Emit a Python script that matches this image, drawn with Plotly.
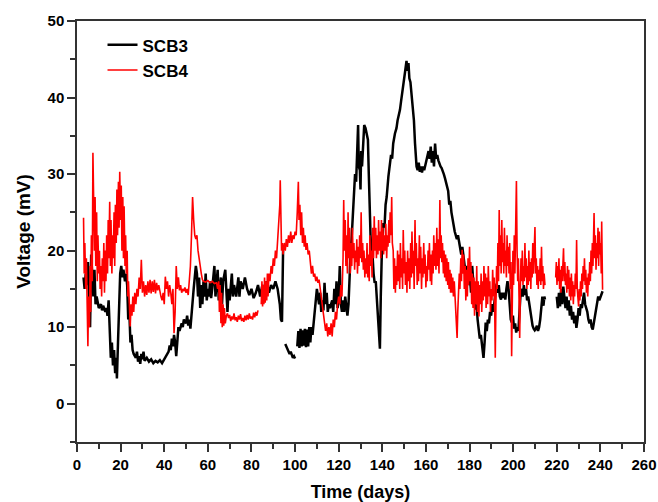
import plotly.graph_objects as go

# ---------------- data ----------------
scb3_days = [
    3, 3.5, 4, 4.5, 5, 5.5, 6, 6.5, 7, 7.5, 8, 8.5, 9, 9.5, 10, 11, 11.5, 12, 13, 13.5, 14, 14.5, 15, 15.5, 16, 16.5,
    17, 17.5, 18, 18.3, 18.8, 19.3, 19.8, 20.3, 20.8, 21.3, 22, 22.5, 23, 23.5, 24, 24.5, 25, 25.5, 26, 27, 27.5,
    28, 28.5, 29, 29.5, 30, 30.5, 31, 32, 33, 34, 35, 36, 37, 38, 39, 40, 41, 42, 42.5, 43, 43.5, 44, 44.5, 45,
    45.5, 46, 46.5, 47, 48, 48.5, 49, 50, 50.5, 51, 51.5, 52, 52.5, 53, 53.5, 54, 54.5, 55, 55.5, 56, 56.5, 57,
    57.5, 58, 58.5, 59, 59.5, 60, 60.5, 61, 61.5, 62, 63, 63.5, 64, 64.5, 65, 65.5, 66, 66.5, 67, 68, 68.5, 69,
    69.5, 70, 71, 71.5, 72, 73, 74, 74.5, 75, 76, 77, 78, 79, 80, 81, 82, 83, 84, 85, 86, 87, 88, 89, 90, 91, 92,
    92.5, 93, 93.5, 94, 94.5,
    None,
    95.5, 96, 96.5, 97, 97.5, 98, 98.5, 99, 99.5, 100,
    None,
    101, 101.5, 102, 102.5, 103, 103.5, 104, 104.5, 105, 105.5, 106, 106.5, 107, 107.5, 108, 108.5, 109, 109.5,
    110, 110.5, 111, 111.5, 112, 112.5, 113, 113.5, 114, 114.5, 115, 115.5, 116, 117, 117.5, 118, 118.5, 119,
    119.5, 120, 120.5, 121, 121.5, 122, 122.5, 123, 123.5, 124, 124.5, 125, 125.5, 126, 126.5, 127, 127.5, 128,
    128.5, 128.9, 129.2, 129.7, 130, 130.3, 130.7, 131.2, 131.7, 132.3, 132.8, 133.4, 133.8, 134.2, 134.6, 135,
    135.5, 136, 136.5, 137, 137.5, 138, 138.5, 138.9, 139.3, 139.8, 140.5, 141, 141.5, 142, 142.8, 143.5, 144,
    144.5, 145, 145.8, 146.5, 147, 147.5, 148.1, 148.6, 149, 149.5, 150, 150.5, 151.1, 151.5, 152, 152.4, 152.9,
    153.4, 154, 154.5, 155, 155.3, 155.7, 156.2, 156.7, 157.2, 157.7, 158.2, 158.7, 159.2, 159.7, 160.2, 160.7,
    161.2, 161.7, 162.2, 162.7, 163.2, 163.7, 164.2, 164.7, 165.2, 165.7, 166.2, 166.7, 167.2, 167.7, 168.2,
    168.7, 169.2, 169.7, 170.2, 170.7, 171.2, 171.7, 172.2, 172.7, 173.2, 173.7, 174.2, 174.7, 175.2, 175.7,
    176.2, 176.7, 177.2, 177.7, 178.2, 178.7, 179.2, 179.7, 180.2, 180.7, 181.2, 181.7, 182.2, 182.7, 183.2,
    183.7, 184.2, 184.7, 185.2, 185.7, 186.4, 186.9, 187.4, 187.9, 188.4, 188.9, 189.4, 189.9, 190.4, 190.9,
    191.4, 191.9, 192.4, 192.9, 193.4, 193.9, 194.4, 194.9, 195.4, 195.9, 196.4, 196.9, 197.4, 197.9, 198.4,
    198.9, 199.4, 199.9, 200.4, 200.9, 201.4, 201.9, 202.4, 202.9, 203.4, 203.9, 204.4, 204.9, 205.4, 205.9,
    206.4, 206.9, 207.4, 207.9, 208.4, 208.9, 209.4, 209.9, 210.4, 210.9, 211.4, 211.9, 212.4, 212.9, 213.4,
    213.9, 214.3, 214.6,
    None,
    220, 220.5, 221, 221.5, 222, 222.5, 223, 223.5, 224, 224.5, 225, 225.5, 226, 226.5, 227, 227.5, 228, 228.5,
    229, 229.5, 230, 230.5, 231, 231.5, 232, 232.5, 233, 233.5, 234, 234.5, 235, 235.5, 236, 236.5, 237, 237.5,
    238, 238.5, 239, 239.5, 240, 240.5, 241,
]
scb3_mv = [
    16.5, 15, 17, 15.5, 18.5, 14, 10, 19.5, 16, 14, 17.5, 13, 14, 13, 12.5, 13, 12.2, 12.8, 12, 12.5, 11.5, 13.5,
    10.5, 6, 8, 5, 7, 4, 6, 3.3, 8, 14, 17, 18, 16.5, 17.5, 16, 17, 15.5, 11, 12, 8, 9, 7, 6.5, 6, 6.8, 5.5, 6.2,
    5.2, 6.5, 5.8, 6.8, 5.6, 6, 5.5, 5.8, 5.3, 5.6, 5.4, 5.7, 5.3, 5.8, 6.2, 6.8, 7.6, 7, 8.5, 7.5, 9, 8, 6.2, 8.5,
    10, 9.5, 10.5, 10, 11, 10.5, 11.5, 10.2, 11, 9.8, 12, 13.5, 15, 16.5, 18, 17, 14, 16.5, 12.5, 15.5, 13, 16, 14,
    17, 13.5, 15, 14, 16, 13.8, 15, 18, 14, 16, 17.5, 13.5, 15, 16.5, 13, 16, 17.5, 14, 12, 15, 13.5, 17, 14, 15.5,
    14, 16.5, 14, 16, 15, 16.5, 15, 14.2, 15, 13.8, 14.5, 15.5, 14, 15.5, 15, 16, 14.5, 15.5, 15, 16, 15, 14, 13,
    11, 10.7, 20,
    None,
    7.8, 7.5, 7.2, 6.8, 6.5, 6.8, 6.2, 6.0, 6.2, 5.9,
    None,
    7.5, 9.5, 7.3, 9.8, 7.5, 9.6, 7.6, 9.8, 7.4, 9.7, 7.5, 10, 8, 10, 9, 10.5, 12, 14, 15, 14, 13, 14.5, 12, 13.5,
    12.2, 15.8, 13, 14.5, 12, 13, 12.5, 13.5, 12, 15, 13, 16, 12.5, 14, 18, 13, 12, 13.5, 12, 14, 12.2, 11.5, 13,
    17, 20, 22, 25, 27, 30, 29, 32, 36.4, 31, 30.5, 28, 33, 31, 34, 36.4, 36, 35, 34.5, 30, 25, 22, 20, 19.5, 17,
    15.8, 16, 14, 12, 9, 7.2, 14, 20, 23.6, 23, 26, 27, 29.7, 31, 32.5, 32, 34, 35.3, 36, 37, 37.5, 38.4, 39.5,
    40.5, 41.5, 42.5, 43.5, 44.8, 43.5, 44.5, 42.5, 42, 40.6, 39, 37, 34, 32, 31, 30.5, 31.5, 30.3, 31, 30.2, 31,
    30.5, 31.2, 31.8, 32.5, 33, 32, 33.6, 31.5, 33, 31, 34, 32, 32.5, 31.8, 31.2, 31, 30.8, 30.5, 30, 29.5, 29,
    28.5, 27.8, 26, 26.5, 25, 24, 23, 22.5, 22, 21.5, 22, 21, 20, 19.5, 20.5, 19.5, 18, 17, 18, 17, 15.5, 16.5,
    14.5, 18, 15, 14, 12.3, 13, 11, 10, 8.5, 9, 7.5, 6, 8, 10.6, 9.5, 11, 10.5, 12, 11.5, 13, 12, 13.5, 14, 15.7,
    14.5, 15.5, 14, 13.6, 14.5, 13.8, 14.5, 13.6, 15, 16, 15, 13, 11, 10.6, 11.5, 9.8, 10.5, 9.3, 10, 9.5, 12,
    14.4, 15, 14, 15.5, 14.2, 15, 13.5, 14, 13, 12, 11, 10.2, 9.8, 9.6, 9.8, 10.2, 9.5, 10, 11, 12.5, 14, 12.8,
    14, 13.6,
    None,
    14, 12.5, 14.5, 12.7, 15, 13, 15.3, 13.5, 12.5, 14, 12.2, 13.5, 11.5, 12.8, 11, 12, 10.5, 11.5, 9.9, 11, 12.5,
    11.5, 13, 12.5, 13.5, 14.5, 13, 12.5, 12, 11, 10.5, 11, 10, 9.7, 10.5, 11.5, 12.5, 13, 14, 13.5, 14, 14.5,
    14.7,
]

scb4_days = [
    3, 3.3, 3.6, 4, 4.3, 4.7, 5, 5.3, 5.7, 6, 6.3, 6.6, 7, 7.3, 7.6, 8, 8.3, 8.6, 9, 9.3, 9.6, 10, 10.3, 10.6, 11,
    11.3, 11.6, 12, 12.3, 12.6, 13, 13.3, 13.6, 14, 14.3, 14.6, 15, 15.3, 15.6, 16, 16.3, 16.6, 17, 17.3, 17.6,
    18, 18.3, 18.6, 19, 19.3, 19.6, 20, 20.3, 20.6, 21, 21.3, 21.6, 22, 22.3, 22.6, 23, 23.3, 23.6, 24, 24.4,
    24.8, 25.2, 25.6, 26, 26.5, 27, 27.5, 28, 28.5, 29, 29.5, 30, 30.5, 31, 31.5, 32, 32.5, 33, 33.5, 34, 34.5,
    35, 35.5, 36, 36.5, 37, 37.5, 38, 38.5, 39, 39.5, 40, 40.5, 41, 41.5, 42, 42.5, 43, 43.5, 44, 44.5, 45, 45.5,
    46, 46.5, 47, 47.5, 48, 48.5, 49, 49.5, 50, 50.5, 51, 51.5, 52, 52.5, 53, 53.5, 54, 54.5, 55, 55.5, 56, 56.5,
    57, 57.5, 58, 59, 60, 61, 62, 63, 64, 64.5, 65, 65.3, 65.6, 66, 66.3, 66.6, 67, 67.3, 67.6, 68, 68.5, 69,
    69.5, 70, 70.5, 71, 71.5, 72, 72.5, 73, 73.5, 74, 74.5, 75, 75.5, 76, 76.5, 77, 77.5, 78, 78.5, 79, 79.5, 80,
    80.5, 81, 81.5, 82, 82.5, 83,
    None,
    84.5, 84.8, 85.1, 85.4, 85.7, 86, 86.3, 86.6, 87, 87.3, 87.6, 88, 88.5, 89, 89.5, 90, 90.5, 91, 91.5, 92,
    92.5, 93, 93.2, 93.5, 93.8, 94.1, 94.5, 95, 95.5, 96, 96.5, 97, 97.5, 98, 98.5, 99, 99.5, 100, 100.5, 101,
    101.5, 101.8, 102.2, 102.6, 103, 103.4, 103.8, 104.2, 104.6, 105, 105.5, 106, 106.5, 107, 107.5, 108, 108.5,
    109, 109.5, 110, 110.5, 111, 111.5, 112, 112.5, 113, 113.5, 114, 114.5, 115, 115.5, 116, 116.5, 117, 117.5,
    118, 118.5, 119, 119.5, 120, 120.5, 121, 121.5, 122, 122.3, 122.6, 123, 123.3, 123.6, 124, 124.3, 124.6, 125,
    125.3, 125.6, 126, 126.3, 126.6, 127, 127.3, 127.6, 128, 128.3, 128.6, 129, 129.3, 129.6, 130, 130.3, 130.6,
    131, 131.3, 131.6, 132, 132.3, 132.6, 133, 133.3, 133.6, 134, 134.3, 134.6, 135, 135.3, 135.6, 136, 136.3,
    136.6, 137, 137.3, 137.6, 138, 138.3, 138.6, 139, 139.3, 139.6, 140, 140.3, 140.6, 141, 141.3, 141.6, 142,
    142.3, 142.6, 143, 143.3, 143.6, 144, 144.3, 144.6, 145, 145.3, 145.6, 146, 146.3, 146.6, 147, 147.3, 147.6,
    148, 148.3, 148.6, 149, 149.3, 149.6, 150, 150.3, 150.6, 151, 151.3, 151.6, 152, 152.3, 152.6, 153, 153.3,
    153.6, 154, 154.3, 154.6, 155, 155.3, 155.6, 156, 156.3, 156.6, 157, 157.3, 157.6, 158, 158.3, 158.6, 159,
    159.3, 159.6, 160, 160.3, 160.6, 161, 161.3, 161.6, 162, 162.3, 162.6, 163, 163.3, 163.6, 164, 164.3, 164.6,
    165, 165.3, 165.6, 166, 166.4, 166.7, 167, 167.3, 167.6, 168, 168.3, 168.6, 169, 169.3, 169.6, 170, 170.3,
    170.6, 171, 171.3, 171.6, 172, 172.3, 172.6, 173, 173.3, 173.6, 174, 174.3, 174.6, 175, 175.3, 175.6, 176,
    176.3, 176.6, 177, 177.3, 177.6, 178, 178.3, 178.6, 179, 179.3, 179.6, 180, 180.3, 180.6, 181, 181.3, 181.6,
    182, 182.3, 182.6, 183, 183.3, 183.6, 184, 184.3, 184.6, 185, 185.3, 185.6, 186, 186.3, 186.6, 187, 187.3,
    187.6, 188, 188.3, 188.6, 189, 189.3, 189.6, 190, 190.3, 190.6, 191, 191.3, 191.6, 191.8, 192.1, 192.4,
    192.7, 193, 193.3, 193.6, 193.9, 194.2, 194.5, 194.8, 195.1, 195.4, 195.7, 196, 196.3, 196.6, 196.9, 197.2,
    197.5, 197.8, 198.1, 198.4, 198.7, 199, 199.3, 199.6, 199.9, 200.2, 200.5, 200.8, 201.2, 201.5, 201.8,
    202.1, 202.4, 202.7, 203, 203.3, 203.6, 203.9, 204.2, 204.5, 204.8, 205.1, 205.4, 205.7, 206, 206.3, 206.6,
    206.9, 207.2, 207.5, 207.8, 208.1, 208.4, 208.7, 209, 209.3, 209.6, 210, 210.3, 210.6, 210.9, 211.2, 211.5,
    211.8, 212.1, 212.4, 212.7, 213, 213.3, 213.6, 213.9, 214.2, 214.6,
    None,
    219.5, 219.8, 220.1, 220.4, 220.7, 221, 221.3, 221.6, 221.9, 222.2, 222.5, 222.8, 223.1, 223.4, 223.7, 224,
    224.3, 224.6, 224.9, 225.2, 225.5, 225.8, 226.1, 226.4, 226.7, 227, 227.3, 227.6, 227.9, 228.2, 228.5, 228.8,
    229.1, 229.4, 229.7, 230, 230.3, 230.6, 230.9, 231.2, 231.5, 231.8, 232.1, 232.4, 232.7, 233, 233.3, 233.6,
    233.9, 234.2, 234.5, 234.8, 235.1, 235.4, 235.7, 236, 236.3, 236.6, 237.1, 237.4, 237.7, 238, 238.3, 238.6,
    238.9, 239.2, 239.5, 239.8, 240.1, 240.4, 240.6, 240.8, 241,
]
scb4_mv = [
    24.3, 17, 21, 15, 19, 12, 7.5, 14, 10, 18, 12, 22, 16, 32.8, 26, 20, 27, 18, 25, 16, 22, 17, 20, 15, 18, 14,
    19, 16, 21, 14.5, 20, 16, 22, 17, 24, 19, 26.4, 18, 24, 17, 22, 19, 25, 18, 26, 21, 28, 22, 29, 23, 30.3, 24,
    28.5, 20, 27, 19, 25.8, 18, 22, 17, 20, 14, 16, 12, 10.1, 13, 11.5, 14, 12, 14.5, 13, 15, 14, 16.5, 15, 18.8,
    14.5, 16, 14, 15.5, 14.2, 16, 14.5, 16.2, 14.4, 16, 14.6, 16.2, 14.4, 15.8, 14.8, 15.5, 14.5, 14, 13.5, 14.5,
    13, 16.6, 15, 16, 14, 15.5, 14.5, 13, 15, 9.2, 12, 18, 15, 16.5, 14.8, 15.5, 14.5, 15, 14.7, 15.2, 14.5, 15,
    14.2, 16, 18, 22, 27, 24, 22, 21.5, 22, 20, 19.2, 18, 17, 16.2, 16, 15.9, 16.1, 15.8, 16, 15.7, 15.8, 15, 16,
    12, 15.5, 10.5, 14.5, 10, 13, 10.2, 12.5, 10.5, 11.5, 11.8, 11.2, 11.6, 10.8, 11.4, 11, 11.8, 10.9, 11.3,
    10.7, 11.5, 11, 11.7, 10.8, 11.2, 10.7, 11.5, 10.9, 11.6, 11, 11.8, 11.1, 11.4, 11, 11.9, 11.3, 12, 11.5,
    12.2,
    None,
    13, 16, 12.7, 15.5, 13, 16.5, 13.2, 16, 13.5, 17, 14, 17, 16, 18, 17, 19, 18, 20, 19, 21, 23, 26, 29.2, 24,
    20, 21, 19.5, 21, 20, 21.5, 20.5, 22, 21, 22.5, 21, 22, 21.5, 22.5, 22, 25, 29, 24, 26, 22, 25, 21, 23, 20.5,
    22, 20.1, 21, 19.5, 20, 18.5, 17, 18, 16.6, 17, 16, 16.6, 15.8, 16.2, 15, 14.5, 13, 12.2, 11, 9.5, 10.5, 8.8,
    10, 9, 10.5, 8.8, 11, 10, 12, 11, 13, 14, 13, 15.5, 14, 19, 26.6, 20, 24, 18, 22, 17, 25, 19, 23, 17, 21, 18,
    23, 19, 21, 17.5, 20, 18.5, 21.5, 17, 20.5, 18, 22, 19, 25, 18.5, 21, 17.5, 20, 16.5, 19, 17, 21, 16.5, 19.5,
    16, 22, 18, 20, 16.5, 23, 19, 24.5, 20, 23, 19, 22, 19.5, 24, 20, 22.5, 19, 24, 20, 23, 19.5, 22, 20, 23.5,
    19, 22, 20.5, 24, 21, 25, 22, 27, 21, 20, 15, 19, 14.5, 18, 15.5, 20, 16, 19.5, 15, 21, 16.5, 19, 15, 22.7,
    17, 20, 15.5, 18.5, 14.5, 20, 16, 19, 15, 21, 16.5, 22.5, 17, 20, 15, 24, 18, 21, 15.5, 19, 16, 22, 17, 20.5,
    15, 19, 16.5, 21, 17, 19.5, 15.2, 18, 16, 20, 17.5, 21, 16, 19.5, 15.5, 20, 17, 22, 18, 21, 17.5, 23, 18,
    21.5, 17, 26.6, 19, 22, 18.5, 21, 17, 20, 16.5, 19.5, 16, 19, 15.5, 18.5, 15, 17.5, 14.5, 17, 14.5, 16.5, 14,
    16, 14.5, 13, 11, 8.6, 12, 14, 17, 15, 19, 16, 20.1, 17, 19.5, 15, 18, 13.5, 17.5, 14, 19, 15.5, 20.5, 16,
    18.5, 13, 17, 12.5, 16.5, 11.5, 16, 13, 18, 12, 16, 11.4, 15.5, 13, 17, 12, 16, 13.5, 18, 14, 17, 12.5, 16.5,
    13, 18, 14, 16, 12, 15, 13.5, 17.5, 14, 16.5, 11, 6, 13, 18, 15, 21, 16, 25.3, 18, 22, 17, 24, 18.5, 21, 17,
    23, 18, 20, 16.5, 22, 18, 20.5, 17, 21, 15, 18.5, 6.2, 16, 20, 15.5, 22, 17, 24, 29.1, 20, 16, 19, 14, 8.6,
    15, 19, 16, 20, 15.5, 18, 16, 21, 16.5, 19, 15, 18, 15.5, 20, 16, 18.5, 15, 19, 16.5, 21, 17, 20, 23.1, 17,
    19, 15.5, 18, 15, 17.5, 16, 19, 15.5, 20.5, 16, 18, 15, 17, 15.5,
    None,
    16.5, 18.5, 15.5, 18, 16, 19, 15, 17.5, 14.5, 18, 16, 19, 20.3, 16, 18.5, 15.5, 17, 14.5, 18, 15, 17.5, 14,
    16.5, 13.5, 17, 14, 16, 13, 15.5, 14, 17, 15, 21.4, 15, 13, 12.7, 15, 13.5, 16, 14, 17, 15, 18, 16, 19, 15.5,
    17.5, 14.5, 16.5, 14, 17, 15.5, 18.5, 16, 20, 17, 21, 18, 24.9, 19, 22, 17.5, 21, 19, 23, 18, 22.5, 19.5, 21,
    17, 23.8, 16, 14.9,
]

x_ticks = [0, 20, 40, 60, 80, 100, 120, 140, 160, 180, 200, 220, 240, 260]
y_ticks = [0, 10, 20, 30, 40, 50]

FONT = "Liberation Sans, Arial, sans-serif"

fig = go.Figure()
fig.add_trace(go.Scatter(x=scb3_days, y=scb3_mv, mode="lines", name="SCB3",
                         line=dict(color="black", width=2.5), connectgaps=False))
fig.add_trace(go.Scatter(x=scb4_days, y=scb4_mv, mode="lines", name="SCB4",
                         line=dict(color="#ff0000", width=1.6), connectgaps=False))

axis_common = dict(
    showgrid=False, zeroline=False, showline=True, mirror=True,
    linecolor="#333333", linewidth=1.5,
    ticks="outside", tickcolor="#333333", tickwidth=1.5, ticklen=8,
    tickfont=dict(family=FONT, size=15, color="black", weight="bold"),
    automargin=False,
)

fig.update_xaxes(
    range=[0, 260], tickvals=x_ticks, ticktext=[str(v) for v in x_ticks],
    minor=dict(dtick=10, ticks="outside", ticklen=5, tickcolor="#333333", tickwidth=1.5),
    title=dict(text="Time (days)", font=dict(family=FONT, size=18, color="black", weight="bold"), standoff=18),
    **axis_common,
)
fig.update_yaxes(
    range=[-5, 50], tickvals=y_ticks, ticktext=[str(v) for v in y_ticks],
    minor=dict(dtick=5, ticks="outside", ticklen=5, tickcolor="#333333", tickwidth=1.5),
    title=dict(text="Voltage (mV)", font=dict(family=FONT, size=19, color="black", weight="bold"), standoff=12),
    **axis_common,
)

fig.update_layout(
    width=658, height=502,
    margin=dict(l=77, r=14, t=21, b=60),
    paper_bgcolor="white", plot_bgcolor="white",
    showlegend=True,
    legend=dict(x=0.045, y=0.985, xanchor="left", yanchor="top",
                bgcolor="rgba(0,0,0,0)", borderwidth=0,
                font=dict(family=FONT, size=17, color="black", weight="bold"),
                itemwidth=30, tracegroupgap=0),
)

fig.write_html("out.html")
